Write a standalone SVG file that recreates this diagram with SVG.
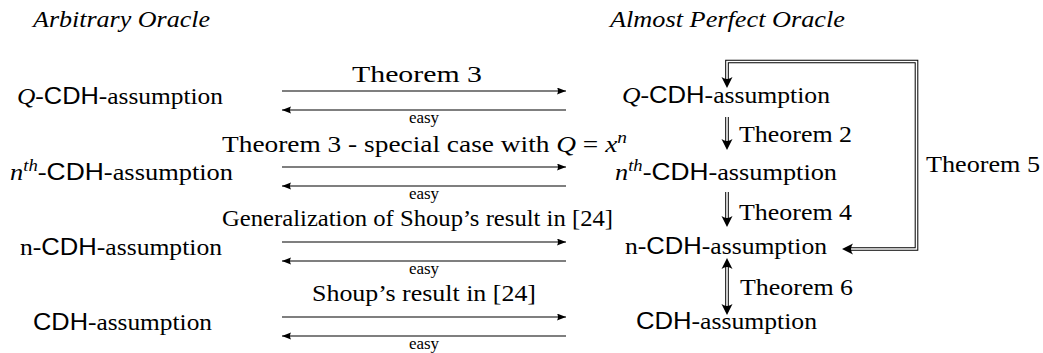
<svg xmlns="http://www.w3.org/2000/svg" width="1043" height="353" viewBox="0 0 1043 353">
<style>
text{font-family:"Liberation Serif","DejaVu Serif",serif;fill:#000}
.t{font-size:24px}
.i{font-style:italic}
.s{font-family:"Liberation Sans","DejaVu Sans",sans-serif}
.e{font-size:17px;text-anchor:middle}
.sup{font-size:17px;font-style:italic}
.ln{fill:none;stroke:#000;stroke-width:1.1}
.dbo{fill:none;stroke:#000;stroke-width:3.6;stroke-linejoin:miter}
.dbi{fill:none;stroke:#fff;stroke-width:1.6;stroke-linejoin:miter}
.hd{fill:#000}
</style>
<defs>
<marker id="ar" markerUnits="userSpaceOnUse" markerWidth="10" markerHeight="8" refX="9" refY="3.5" orient="auto">
<path d="M0,0 L9,3.5 L0,7 Q2,3.5 0,0 Z" fill="#000"/>
</marker>
<path id="hdDown" d="M0,0 L-5.5,-11 Q0,-7 5.5,-11 Z"/>
</defs>
<g id="headers">
<text class="t i" x="33" y="27" textLength="177" lengthAdjust="spacingAndGlyphs">Arbitrary Oracle</text>
<text class="t i" x="610" y="27" textLength="235" lengthAdjust="spacingAndGlyphs">Almost Perfect Oracle</text>
</g>

<g id="left-q"><text class="t" x="17" y="104" textLength="206" lengthAdjust="spacingAndGlyphs"><tspan class="i">Q</tspan>-<tspan class="s">CDH</tspan>-assumption</text></g>
<g id="left-nth"><text class="t" x="10" y="180" textLength="223" lengthAdjust="spacingAndGlyphs"><tspan class="i">n</tspan><tspan class="sup" dy="-9">th</tspan><tspan dy="9">-</tspan><tspan class="s">CDH</tspan>-assumption</text></g>
<g id="left-n"><text class="t" x="20" y="255" textLength="202" lengthAdjust="spacingAndGlyphs">n-<tspan class="s">CDH</tspan>-assumption</text></g>
<g id="left-cdh"><text class="t" x="33" y="330" textLength="179" lengthAdjust="spacingAndGlyphs"><tspan class="s">CDH</tspan>-assumption</text></g>

<g id="right-q"><text class="t" x="622" y="103" textLength="208" lengthAdjust="spacingAndGlyphs"><tspan class="i">Q</tspan>-<tspan class="s">CDH</tspan>-assumption</text></g>
<g id="right-nth"><text class="t" x="615" y="180" textLength="222" lengthAdjust="spacingAndGlyphs"><tspan class="i">n</tspan><tspan class="sup" dy="-9">th</tspan><tspan dy="9">-</tspan><tspan class="s">CDH</tspan>-assumption</text></g>
<g id="right-n"><text class="t" x="625" y="254" textLength="202" lengthAdjust="spacingAndGlyphs">n-<tspan class="s">CDH</tspan>-assumption</text></g>
<g id="right-cdh"><text class="t" x="636" y="329" textLength="181" lengthAdjust="spacingAndGlyphs"><tspan class="s">CDH</tspan>-assumption</text></g>

<g id="connectors">
<line class="ln" x1="282" y1="91" x2="566" y2="91" marker-end="url(#ar)"/>
<line class="ln" x1="566" y1="110" x2="282" y2="110" marker-end="url(#ar)"/>
<line class="ln" x1="282" y1="167" x2="566" y2="167" marker-end="url(#ar)"/>
<line class="ln" x1="566" y1="186" x2="282" y2="186" marker-end="url(#ar)"/>
<line class="ln" x1="282" y1="242" x2="566" y2="242" marker-end="url(#ar)"/>
<line class="ln" x1="566" y1="261" x2="282" y2="261" marker-end="url(#ar)"/>
<line class="ln" x1="282" y1="317" x2="566" y2="317" marker-end="url(#ar)"/>
<line class="ln" x1="566" y1="336" x2="282" y2="336" marker-end="url(#ar)"/>

<text class="t" x="417" y="82" text-anchor="middle" textLength="130" lengthAdjust="spacingAndGlyphs">Theorem 3</text>
<text class="t" x="222" y="152" textLength="405" lengthAdjust="spacingAndGlyphs">Theorem 3 - special case with <tspan class="i">Q</tspan> = <tspan class="i">x</tspan><tspan class="sup" dy="-9">n</tspan></text>
<text class="t" x="222" y="226" textLength="391" lengthAdjust="spacingAndGlyphs">Generalization of Shoup’s result in [24]</text>
<text class="t" x="312" y="301" textLength="224" lengthAdjust="spacingAndGlyphs">Shoup’s result in [24]</text>
<text class="e" x="424" y="123">easy</text>
<text class="e" x="424" y="199">easy</text>
<text class="e" x="424" y="274">easy</text>
<text class="e" x="424" y="349">easy</text>

<g id="thm2">
<path class="dbo" d="M727,117 V142"/><path class="dbi" d="M727,117 V142"/>
<use href="#hdDown" x="727" y="150" class="hd"/>
<text class="t" x="739" y="142" textLength="113" lengthAdjust="spacingAndGlyphs">Theorem 2</text>
</g>
<g id="thm4">
<path class="dbo" d="M727,192 V219"/><path class="dbi" d="M727,192 V219"/>
<use href="#hdDown" x="727" y="227" class="hd"/>
<text class="t" x="739" y="220" textLength="113" lengthAdjust="spacingAndGlyphs">Theorem 4</text>
</g>
<g id="thm6">
<path class="dbo" d="M727,266 V307"/><path class="dbi" d="M727,266 V307"/>
<use href="#hdDown" transform="translate(727,258) rotate(180)" class="hd"/>
<use href="#hdDown" x="727" y="315" class="hd"/>
<text class="t" x="740" y="295" textLength="113" lengthAdjust="spacingAndGlyphs">Theorem 6</text>
</g>
<g id="thm5">
<path class="dbo" d="M727,80 V61.5 H916.5 V249 H850"/><path class="dbi" d="M727,80 V61.5 H916.5 V249 H850"/>
<use href="#hdDown" x="727" y="88" class="hd"/>
<use href="#hdDown" transform="translate(842,249) rotate(90)" class="hd"/>
<text class="t" x="926" y="172" textLength="114" lengthAdjust="spacingAndGlyphs">Theorem 5</text>
</g>
</g>
</svg>
